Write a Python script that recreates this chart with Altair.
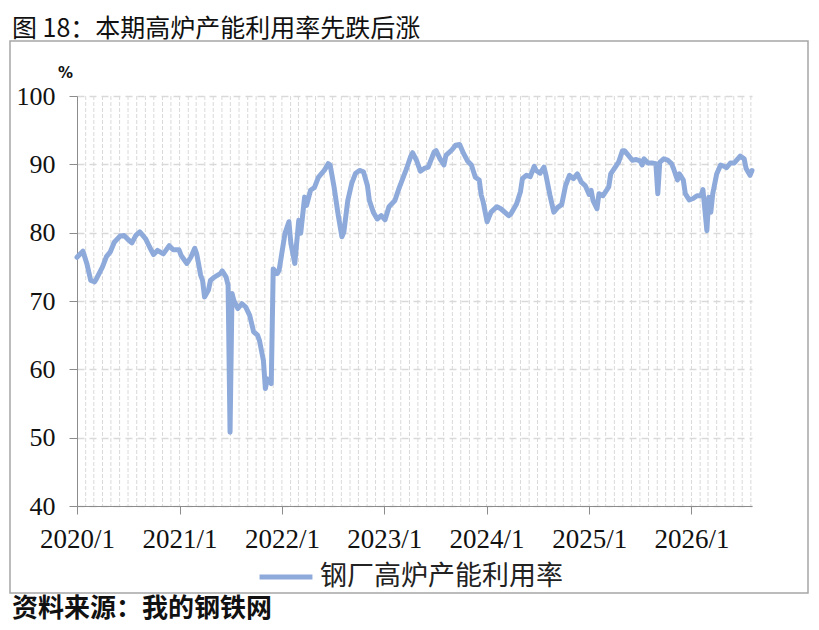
import altair as alt
import pandas as pd

# ---- data (week index since 2020-01-01, utilisation %) ----
weeks = [0, 3, 5, 7, 9, 10, 13, 15, 17, 19, 22, 24, 26, 28, 30, 32, 35, 37, 39, 41,
         44, 47, 49, 52, 53, 56, 58, 60, 61, 63, 64, 65, 67, 68, 70, 73, 74, 76, 77, 78,
         79, 80, 82, 84, 86, 88, 90, 92, 93, 95, 96, 97, 99,
         100, 102, 103, 106, 108, 109, 111, 113, 114, 116, 117, 119, 121, 123, 126, 128, 129,
         131, 133, 135, 136, 138, 140, 142, 144, 146, 148, 149, 151, 153, 155, 157, 159, 162,
         164, 166, 168, 170, 171, 173, 175, 177, 179, 182, 183, 185, 187, 188, 191, 193, 195,
         197, 199, 201, 203, 205, 206, 207, 209,
         211, 214, 216, 220, 221, 224, 226, 227, 229, 231, 233, 234, 236, 238, 239, 241, 243,
         245, 247, 249, 251, 253, 255, 257, 259, 261, 262, 263, 265, 266, 268, 271, 272, 275,
         276, 278, 279, 281, 283, 285, 287, 288, 289, 291, 293, 295, 296, 297, 299, 301, 303,
         304, 306, 307, 309, 310, 312, 314, 316, 318, 319, 321, 322, 323, 324, 326, 328, 330,
         331, 333, 335, 338, 340, 341, 343, 344]
values = [76.4, 77.3, 75.5, 73.0, 72.8, 73.3, 75.0, 76.5, 77.2, 78.6, 79.5, 79.6, 79.0, 78.5,
          79.6, 80.1, 79.1, 77.9, 76.8, 77.4, 76.9, 78.1, 77.5, 77.5, 76.7, 75.5, 76.4, 77.7,
          76.9, 73.8, 73.0, 70.6, 71.6, 73.0, 73.5, 74.0, 74.4, 73.5, 72.3, 50.8, 71.1, 70.0,
          68.9, 69.6, 69.1, 67.9, 65.5, 65.0, 64.2, 61.3, 57.2, 58.6, 57.9,
          74.7, 74.0, 74.5, 79.9, 81.6, 78.4, 75.5, 81.8, 79.9, 85.2, 84.0, 86.2, 86.6, 88.1,
          89.1, 90.1, 89.9, 86.7, 82.8, 79.4, 80.1, 84.7, 87.2, 88.7, 89.1, 88.9, 86.9, 84.7,
          83.0, 82.0, 82.5, 81.9, 83.8, 84.7, 86.4, 87.9, 89.4, 91.1, 91.7, 90.6, 89.0, 89.4,
          89.6, 91.8, 92.0, 90.8, 89.9, 91.3, 92.1, 92.8, 92.9, 91.6, 90.5, 89.9, 88.1, 87.7,
          85.5, 84.5, 81.6,
          83.0, 83.8, 83.5, 82.5, 82.7, 84.2, 86.0, 87.9, 88.4, 88.2, 89.7, 89.1, 88.7, 89.6,
          88.4, 85.5, 83.0, 83.7, 84.1, 86.9, 88.4, 87.9, 88.6, 87.4, 86.9, 85.6, 86.2, 84.7,
          83.5, 85.7, 85.4, 86.7, 88.6, 89.9, 90.3, 92.0, 92.0, 91.3, 90.6, 90.7, 90.5, 89.9,
          90.8, 90.2, 90.2, 90.1, 85.7, 90.3, 90.8, 90.6, 90.1, 89.4, 87.7, 88.6, 87.7, 85.7,
          84.8, 85.0, 85.4, 85.4, 86.3, 80.3, 85.2, 83.0, 85.7, 88.6, 89.9, 89.7, 89.5, 90.2,
          90.2, 91.2, 90.8, 89.4, 88.4, 89.1]
series_name = "钢厂高炉产能利用率"
title_text = "图 18：本期高炉产能利用率先跌后涨"
source_text = "资料来源：我的钢铁网"
y_ticks = [40, 50, 60, 70, 80, 90, 100]
x_tick_years = [2020, 2021, 2022, 2023, 2024, 2025, 2026]

df = pd.DataFrame({
    "date": pd.Timestamp("2020-01-01") + pd.to_timedelta([w * 7 for w in weeks], unit="D"),
    "value": values,
    "series": series_name,
})
months = pd.DataFrame({"month": pd.date_range("2020-02-01", "2026-08-01", freq="MS")})
one = pd.DataFrame({"k": [0]})

W, H = 675, 410
LINE_COLOR = "#8eaadb"
SERIF = "Liberation Serif"
CJK = "Noto Sans CJK SC"

x_scale = alt.Scale(domain=[alt.DateTime(year=2020, month=1, date=1),
                            alt.DateTime(year=2026, month=8, date=5)])
y_scale = alt.Scale(domain=[40, 100], nice=False, zero=False)

frame = alt.Chart(one).mark_rect(fillOpacity=0, stroke="#a6a6a6", strokeWidth=1.5).encode(
    x=alt.value(-67), x2=alt.value(731), y=alt.value(-55), y2=alt.value(497)
)

grid_rules = alt.Chart(months).mark_rule(color="#d9d9d9", strokeWidth=1, strokeDash=[4, 2]).encode(
    x=alt.X("month:T", scale=x_scale, title=None)
)

line = alt.Chart(df).mark_line(strokeWidth=5, strokeJoin="round", strokeCap="round").encode(
    x=alt.X("date:T", scale=x_scale, title=None,
            axis=alt.Axis(values=[alt.DateTime(year=yy, month=1, date=1) for yy in x_tick_years],
                          format="%Y/%-m", grid=False, tickSize=8, tickColor="#8c8c8c",
                          domainColor="#8c8c8c", labelFont=SERIF, labelFontSize=27,
                          labelColor="#111111", labelPadding=12, labelFlush=False,
                          labelOverlap=False)),
    y=alt.Y("value:Q", scale=y_scale,
            axis=alt.Axis(values=y_ticks, tickSize=8, tickColor="#8c8c8c", domainColor="#8c8c8c",
                          labelFont=SERIF, labelFontSize=26, labelColor="#111111", labelPadding=14,
                          grid=True, gridDash=[7, 5], gridColor="#d9d9d9", gridWidth=1.5,
                          title="%", titleAngle=0, titleX=-12, titleY=-19, titleAlign="center",
                          titleBaseline="alphabetic", titleFont="DejaVu Sans", titleFontSize=15,
                          titleFontWeight="bold", titleColor="#111111")),
    color=alt.Color("series:N", scale=alt.Scale(range=[LINE_COLOR]),
                    legend=alt.Legend(orient="none", legendX=180, legendY=452, padding=0,
                                      title=None, symbolType="stroke", symbolSize=2800,
                                      symbolStrokeWidth=5, labelFont=CJK, labelFontSize=27,
                                      labelColor="#222222", labelOffset=5, labelLimit=500)),
)

title = alt.Chart(one).mark_text(align="left", baseline="middle", font=CJK, fontSize=25,
                                 color="#111111").encode(
    x=alt.value(-65), y=alt.value(-67), text=alt.value(title_text)
)
source = alt.Chart(one).mark_text(align="left", baseline="middle", font=CJK, fontSize=26,
                                  fontWeight="bold", color="#111111").encode(
    x=alt.value(-65), y=alt.value(513), text=alt.value(source_text)
)

chart = alt.layer(frame, grid_rules, line, title, source).properties(
    width=W, height=H,
    autosize=alt.AutoSizeParams(type="none"),
    padding={"left": 69, "top": 88, "right": 58, "bottom": 120},
).configure_view(strokeWidth=0)

chart.save("out.html", embed_options={"renderer": "svg", "actions": False})
